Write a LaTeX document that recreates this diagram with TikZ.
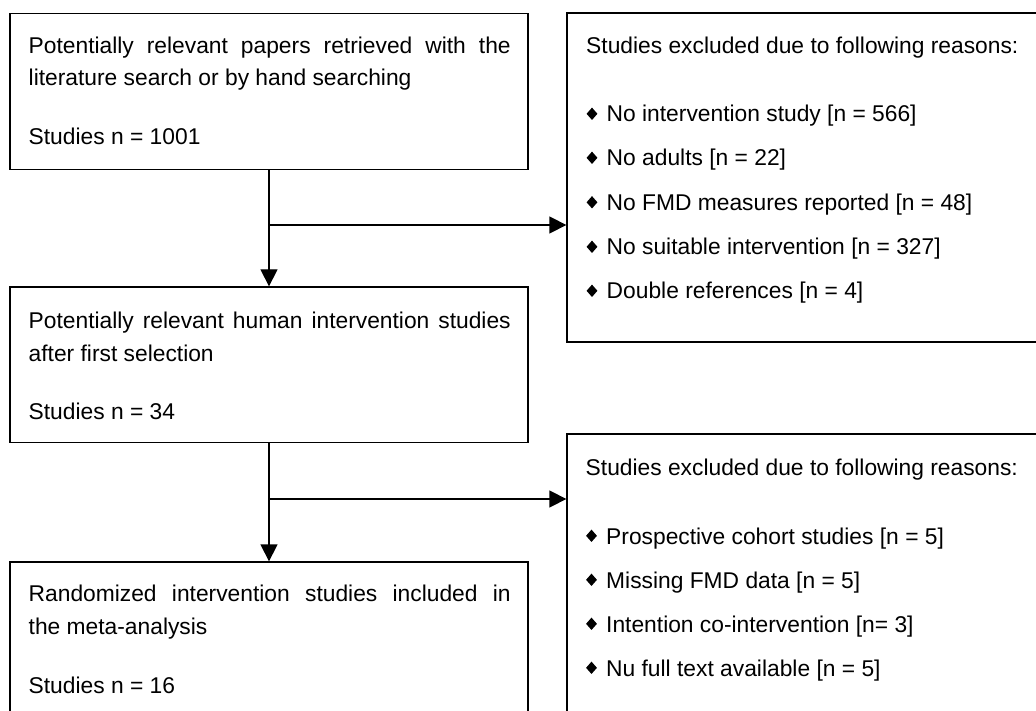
\documentclass[tikz,border=0pt]{standalone}
\usepackage{fontspec}
\setmainfont{Liberation Sans}
\usetikzlibrary{arrows.meta,shapes.geometric}
\begin{document}
\begin{tikzpicture}[x=1pt,y=-1pt,
  box/.style={draw=black, line width=1.3pt, rectangle, inner sep=0pt},
  txt/.style={anchor=base west, inner sep=0pt, font=\fontsize{22.8}{27}\selectfont},
  bul/.style={diamond, fill=black, draw=none, inner sep=0pt, minimum width=11pt, minimum height=12.5pt},
  arr/.style={line width=1.3pt, -{Triangle[length=17pt,width=17pt]}}
]
\useasboundingbox (0,0) rectangle (1036,711);
\fill[white] (0,0) rectangle (1036,711);
\clip (0,0) rectangle (1036,711);

% boxes
\node[box, minimum width=518pt, minimum height=155.5pt] (b1) at (269,91.5) {};
\node[box, minimum width=518pt, minimum height=155.5pt] (b2) at (269,364.75) {};
\node[box, minimum width=518pt, minimum height=168pt] (b3) at (269,646) {};
\node[box, minimum width=478pt, minimum height=329pt] (r1) at (806,177.5) {};
\node[box, minimum width=478pt, minimum height=296pt] (r2) at (806,582) {};

% connectors
\coordinate (j1) at (269,225);
\coordinate (j2) at (269,499);
\draw[arr] (b1.south) -- (b2.north);
\draw[arr] (j1) -- (j1 -| r1.west);
\draw[arr] (b2.south) -- (b3.north);
\draw[arr] (j2) -- (j2 -| r2.west);

% left texts
\node[txt] (t1a) at (28.5,53.3) {\makebox[482pt][s]{Potentially relevant papers retrieved with the}};
\node[txt] (t1b) at (28.5,86) {literature search or by hand searching};
\node[txt] (t1c) at (28.5,145) {Studies n = 1001};

\node[txt] (t2a) at (28.5,328.3) {\makebox[482pt][s]{Potentially relevant human intervention studies}};
\node[txt] (t2b) at (28.5,361) {after first selection};
\node[txt] (t2c) at (28.5,419.5) {Studies n = 34};

\node[txt] (t3a) at (28.5,601.7) {\makebox[482pt][s]{Randomized intervention studies included in}};
\node[txt] (t3b) at (28.5,634.5) {the meta-analysis};
\node[txt] (t3c) at (28.5,693.3) {Studies n = 16};

% right box 1
\node[txt] (r1t) at (586,53.3) {Studies excluded due to following reasons:};
\node[bul] (r1b1) at (592,113.8) {};
\node[txt] (r1i1) at (606.5,122) {No intervention study [n = 566]};
\node[bul] (r1b2) at (592,157.8) {};
\node[txt] (r1i2) at (606.5,166) {No adults [n = 22]};
\node[bul] (r1b3) at (592,202.3) {};
\node[txt] (r1i3) at (606.5,210.5) {No FMD measures reported [n = 48]};
\node[bul] (r1b4) at (592,246.8) {};
\node[txt] (r1i4) at (606.5,255) {No suitable intervention [n = 327]};
\node[bul] (r1b5) at (592,290.8) {};
\node[txt] (r1i5) at (606.5,299) {Double references [n = 4]};

% right box 2
\node[txt] (r2t) at (585.5,475) {Studies excluded due to following reasons:};
\node[bul] (r2b1) at (591.5,535.8) {};
\node[txt] (r2i1) at (606,544) {Prospective cohort studies [n = 5]};
\node[bul] (r2b2) at (591.5,579.8) {};
\node[txt] (r2i2) at (606,588) {Missing FMD data [n = 5]};
\node[bul] (r2b3) at (591.5,623.8) {};
\node[txt] (r2i3) at (606,632) {Intention co-intervention [n= 3]};
\node[bul] (r2b4) at (591.5,667.8) {};
\node[txt] (r2i4) at (606,676) {Nu full text available [n = 5]};
\end{tikzpicture}
\end{document}
